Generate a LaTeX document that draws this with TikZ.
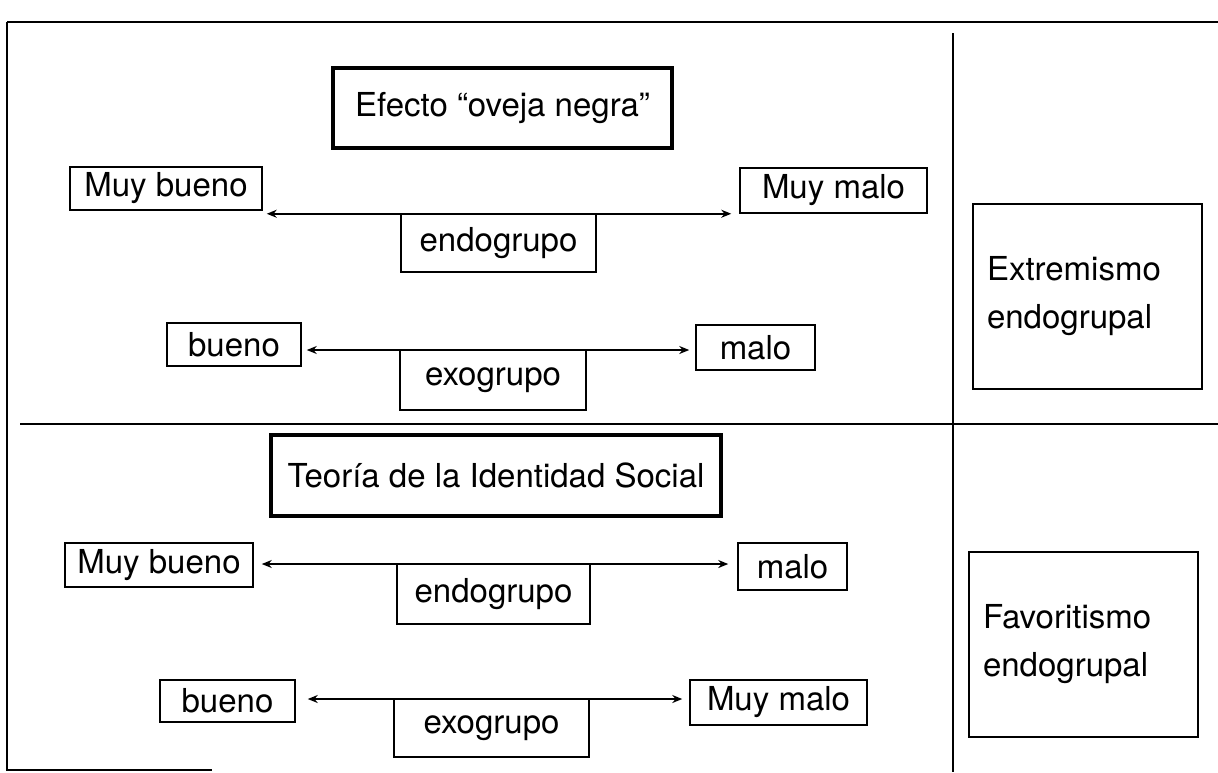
\documentclass[tikz,border=0pt]{standalone}
\usepackage{fontspec}
\setmainfont{TeX Gyre Heros}
\usetikzlibrary{arrows.meta}
\tikzset{
  lbl/.style={draw, line width=0.75pt, inner sep=0pt, font=\fontsize{16.5}{20}\selectfont},
  ttl/.style={draw, line width=2pt, inner sep=0pt, font=\fontsize{16.5}{20}\selectfont},
  side/.style={draw, line width=0.75pt, inner xsep=7pt, inner ysep=0pt, text width=100.5pt, align=left,
    minimum height=92.5pt, font=\fontsize{16.5}{24}\selectfont},
  arr/.style={line width=0.75pt, {Stealth[length=5pt,width=4pt]}-{Stealth[length=5pt,width=4pt]}},
  frame/.style={line width=0.9pt}
}
\begin{document}
\begin{tikzpicture}[x=0.5pt,y=-0.5pt]
\useasboundingbox (0,0) rectangle (1218,772);
% frame and dividers
\coordinate (ftr) at (1218,22);
\coordinate (ftl) at (7,22);
\coordinate (fbl) at (7,770);
\coordinate (fbe) at (212,770);
\draw[frame] (ftl) -- (fbl) -- (fbe);
\draw[line width=1.3pt] (ftl) -- (ftr);
\coordinate (vt) at (953,33);
\coordinate (vb) at (953,772);
\draw[frame] (vt) -- (vb);
\coordinate (hl) at (20,424);
\coordinate (hr) at (1218,424);
\draw[frame] (hl) -- (hr);

% top section
\node[ttl, minimum width=169.5pt, minimum height=40pt] (ef) at (502.5,108) {Efecto “oveja negra”};
\node[lbl, minimum width=96pt, minimum height=21.5pt] (mb1) at (166,188.5) {Muy bueno};
\node[lbl, minimum width=93.5pt, minimum height=22.5pt] (mm1) at (833.5,190.5) {Muy malo};
\node[lbl, minimum width=97.5pt, minimum height=29pt] (en1) at (498.5,243) {endogrupo};
\node[lbl, minimum width=67pt, minimum height=21.5pt] (b1) at (234,344.5) {bueno};
\node[lbl, minimum width=59.5pt, minimum height=22.5pt] (m1) at (755.5,347.5) {malo};
\node[lbl, minimum width=93pt, minimum height=30pt] (ex1) at (493,380) {exogrupo};
\draw[arr] ([shift={(2pt,-1.5pt)}]mb1.south east) -- ([shift={(-4pt,0pt)}]mm1.south west);
\draw[arr] ([shift={(2.5pt,-2.75pt)}]b1.east) -- ([shift={(-3pt,-1.25pt)}]m1.west);
\node[side] (extr) at (1087.5,296.5) {Extremismo\\endogrupal};

% bottom section
\node[ttl, minimum width=225pt, minimum height=40.5pt] (teo) at (496,475.5) {Teoría de la Identidad Social};
\node[lbl, minimum width=94pt, minimum height=22pt] (mb2) at (159,565) {Muy bueno};
\node[lbl, minimum width=54.5pt, minimum height=23.5pt] (m2) at (792.5,566.5) {malo};
\node[lbl, minimum width=96.5pt, minimum height=30pt] (en2) at (493.5,594) {endogrupo};
\node[lbl, minimum width=67.5pt, minimum height=21pt] (b2) at (227.5,701) {bueno};
\node[lbl, minimum width=88.5pt, minimum height=22.5pt] (mm2) at (778.5,702.5) {Muy malo};
\node[lbl, minimum width=97.5pt, minimum height=29pt] (ex2) at (491.5,728) {exogrupo};
\draw[arr] ([shift={(4pt,0.5pt)}]mb2.east) -- ([shift={(-4.5pt,1.25pt)}]m2.west);
\draw[arr] ([shift={(6pt,1pt)}]b2.east) -- ([shift={(-3.5pt,1.75pt)}]mm2.west);
\node[side] (fav) at (1083.5,644.5) {Favoritismo\\endogrupal};
\end{tikzpicture}
\end{document}
